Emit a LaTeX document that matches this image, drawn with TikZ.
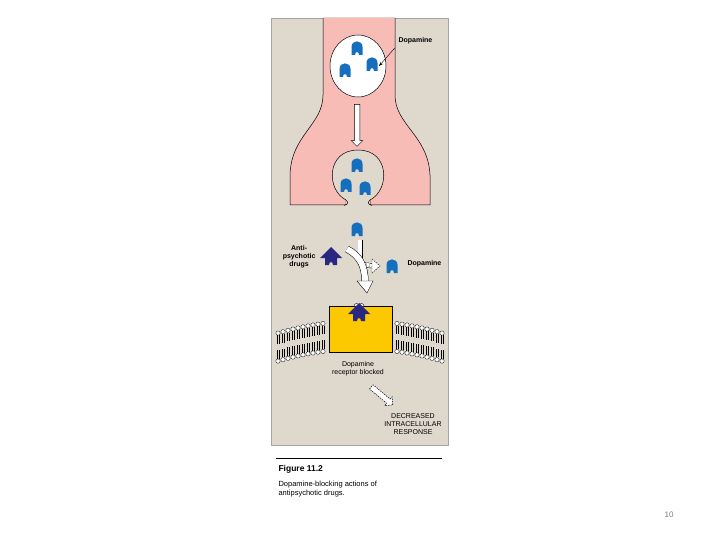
\documentclass[tikz,border=0pt]{standalone}
\usepackage{fontspec}
\setmainfont{Liberation Sans}
\usetikzlibrary{positioning, arrows.meta, shapes.arrows, calc}
\definecolor{PanelColor}{RGB}{222,216,205}
\definecolor{NeuronColor}{RGB}{248,188,182}
\definecolor{DopaColor}{RGB}{22,110,190}
\definecolor{DrugColor}{RGB}{40,40,130}
\definecolor{ReceptorColor}{RGB}{252,200,0}
\tikzset{
  label text/.style={font=\bfseries\fontsize{7}{8}\selectfont, align=center},
  plain text/.style={font=\fontsize{7}{8}\selectfont, align=center},
  hollow arrow/.style={single arrow, draw=black, fill=white, line width=0.5pt,
    minimum height=#1, minimum width=0pt, single arrow head extend=3pt,
    single arrow head indent=0pt, inner sep=2.5pt},
  dopa/.pic={\fill[DopaColor] (-5.5,7) -- (-5.5,-1) .. controls (-5.5,-8.5) and (5.5,-8.5) .. (5.5,-1)
      -- (5.5,7) -- (2,7) .. controls (2,3) and (-2,3) .. (-2,7) -- cycle;},
  drug/.pic={\fill[DrugColor] (0,-10) -- (11,1) -- (6,1) -- (6,8) -- (2,8)
      .. controls (2,4) and (-2,4) .. (-2,8) -- (-6,8) -- (-6,1) -- (-11,1) -- cycle;},
  lipid/.pic={\draw[line width=0.3pt, fill=white] (0,0) circle (2.2);
      \draw[line width=0.3pt] (-0.8,2.2) -- (-0.8,11) (0.8,2.2) -- (0.8,11);}
}
\begin{document}
\begin{tikzpicture}[x=1pt, y=-1pt]
\useasboundingbox (0,0) rectangle (720,540);
\fill[white] (0,0) rectangle (720,540);
% Panel
\draw[gray!70, fill=PanelColor] (271,18) rectangle (448,445);
% Neuron terminal
\draw[fill=NeuronColor, line width=0.5pt] (323,18) -- (323,95) .. controls (323,125) and (291,135) .. (290,175)
  -- (290,205) -- (346,205) -- (346,200)
  .. controls (326,190) and (326,150) .. (358,150)
  .. controls (390,150) and (390,190) .. (370,200) -- (370,205)
  -- (430,205) -- (430,175) .. controls (428,135) and (395,125) .. (395,95) -- (395,18);
\fill[PanelColor] (323,17.5) rectangle (395,18.3);
\fill[PanelColor] (346.3,199) rectangle (369.7,206);
\draw[line width=0.5pt] (346,200) .. controls (348,202) and (349,204) .. (344,205.5);
\draw[line width=0.5pt] (370,200) .. controls (368,202) and (367,204) .. (372,205.5);
% Vesicle
\draw[fill=white, line width=0.5pt] (358,66) ellipse (28 and 31);
\pic at (357,48) {dopa};
\pic at (345,70) {dopa};
\pic at (372,64) {dopa};
\node[label text, anchor=west] (dopaTop) at (395,41) {Dopamine};
\draw[-{Stealth[length=4pt]}, line width=0.4pt] (dopaTop.south west) -- (379,66);
% Release arrow
\node[hollow arrow=42pt, rotate=-90] (release) at (357,124) {};
% Bulb contents
\pic at (357,165) {dopa};
\pic at (346,185) {dopa};
\pic at (365,188) {dopa};
% Cleft
\pic at (357,229) {dopa};
\pic at (392,266) {dopa};
\pic at (331,257) {drug};
\node[label text, anchor=east] (drugs) at (319,257) {Anti-\\psychotic\\drugs};
\node[label text, anchor=west] (dopaFree) at (404,264) {Dopamine};
\coordinate (splitTop) at (360,240);
\coordinate (splitEnd) at (365,282);
\coordinate (sideEnd) at (373,266);
\draw[line width=0.5pt, double=white, double distance=4pt, dash pattern=on 2pt off 1pt] (361,264) -- (sideEnd);
\fill[white, draw=black, line width=0.4pt, dash pattern=on 1.5pt off 1pt] (372,259) -- (380,266) -- (372,273) -- cycle;
\draw[line width=0.5pt, double=white, double distance=4pt] (splitTop) -- (360,258);
\draw[line width=0.5pt, double=white, double distance=6pt] (347,249) .. controls (360,256) and (365,266) .. (splitEnd);
\fill[white, draw=black, line width=0.4pt] (357,281) -- (373,281) -- (367,293) -- cycle;
% Membrane and receptor
\foreach \x in {278,283,...,323, 397,402,...,442}{
  \pgfmathsetmacro{\dy}{0.0018*(\x-360)^2-3}
  \pic at (\x,{324+\dy}) {lipid};
  \pic[yscale=-1] at (\x,{352+\dy}) {lipid};
}
\draw[fill=ReceptorColor, line width=0.5pt] (329,306) rectangle (392,352);
\draw[fill=white, line width=0.4pt] (354,306) arc (180:360:2.5) (359,306) arc (180:360:2.5);
\pic at (359,313) {drug};
\node[plain text] (blocked) at (358,369) {Dopamine\\receptor blocked};
\node[hollow arrow=28pt, rotate=-40, dash pattern=on 1.5pt off 1pt] (effect) at (381,395) {};
\node[plain text, anchor=north] (response) at (413,410) {DECREASED\\INTRACELLULAR\\RESPONSE};
% Caption
\draw[line width=0.6pt] (276,458) -- (442,458);
\node[font=\bfseries\fontsize{8.5}{10}\selectfont, anchor=west] (fig) at (275,469) {Figure 11.2};
\node[font=\fontsize{7.5}{9}\selectfont, anchor=north west, align=left] (caption) at (275,478) {Dopamine-blocking actions of\\antipsychotic drugs.};
\node[font=\fontsize{8}{9}\selectfont, text=gray] (page) at (669,515) {10};
\end{tikzpicture}
\end{document}
